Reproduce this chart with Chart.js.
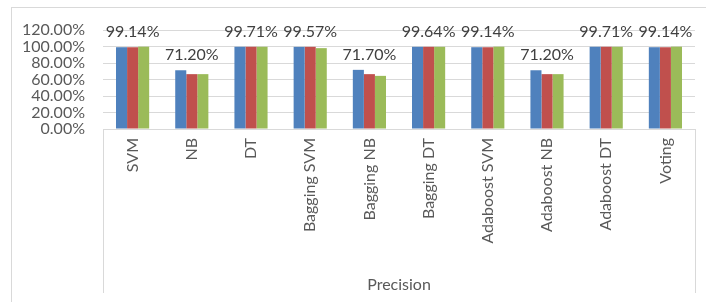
<!DOCTYPE html>
<html>
<head>
<meta charset="utf-8">
<script src="https://cdn.jsdelivr.net/npm/chart.js@4.4.1/dist/chart.umd.min.js"></script>
<style>
  html, body { margin: 0; padding: 0; background: #fff; }
  canvas { display: block; }
</style>
</head>
<body>
<canvas id="precChart" width="706" height="302"></canvas>
<script>
// categories (models)
var models = ["SVM", "NB", "DT", "Bagging SVM", "Bagging NB", "Bagging DT",
              "Adaboost SVM", "Adaboost NB", "Adaboost DT", "Voting"];

// three series, in percent
var seriesBlue  = [99.14, 71.20, 99.71, 99.57, 71.70, 99.64, 99.14, 71.20, 99.71, 99.14];
var seriesRed   = [99.10, 66.50, 99.71, 99.60, 66.50, 99.64, 99.10, 66.50, 99.71, 99.10];
var seriesGreen = [99.80, 66.50, 99.71, 98.00, 64.40, 99.64, 99.80, 66.50, 99.71, 99.80];

var yTicks = [0, 20, 40, 60, 80, 100, 120];

var FONT = "Lato, 'Open Sans', sans-serif";

// frame + category box lines
var framePlugin = {
  id: "frame",
  beforeDraw: function(chart) {
    var c = chart.ctx, a = chart.chartArea;
    c.save();
    c.strokeStyle = "#d9d9d9";
    c.lineWidth = 1;
    c.strokeRect(11.5, 7.5, 900, 500);
    c.beginPath();
    c.moveTo(Math.round(a.left) + 0.5, a.bottom);
    c.lineTo(Math.round(a.left) + 0.5, 293);
    c.moveTo(Math.round(a.right) + 0.5, a.bottom);
    c.lineTo(Math.round(a.right) + 0.5, 293);
    c.stroke();
    c.restore();
  }
};

// value labels above each group (values of the blue series)
var labelPlugin = {
  id: "valLabels",
  afterDatasetsDraw: function(chart) {
    var c = chart.ctx;
    var meta = chart.getDatasetMeta(0);
    var xs = chart.scales.x;
    c.save();
    c.font = "16px " + FONT;
    c.fillStyle = "#404040";
    c.textAlign = "center";
    c.textBaseline = "middle";
    meta.data.forEach(function(bar, i) {
      var x = xs.getPixelForValue(i);
      c.fillText(seriesBlue[i].toFixed(2) + "%", x, bar.y - 15);
    });
    c.restore();
  }
};

new Chart(document.getElementById("precChart"), {
  type: "bar",
  data: {
    labels: models,
    datasets: [
      { data: seriesBlue,  backgroundColor: "#4F81BD" },
      { data: seriesRed,   backgroundColor: "#C0504D" },
      { data: seriesGreen, backgroundColor: "#9BBB59" }
    ]
  },
  options: {
    responsive: false,
    animation: false,
    layout: { padding: { top: 30, right: 11, bottom: 0, left: 0 } },
    plugins: { legend: { display: false }, tooltip: { enabled: false } },
    datasets: { bar: { categoryPercentage: 0.56, barPercentage: 1 } },
    scales: {
      x: {
        grid: { display: false, drawTicks: false },
        border: { display: true, color: "#d9d9d9" },
        ticks: {
          minRotation: 90, maxRotation: 90, autoSkip: false, padding: 9,
          color: "#595959", font: { family: FONT, size: 16 }
        },
        title: {
          display: true, text: "Precision", color: "#595959",
          font: { family: FONT, size: 16 }, padding: { top: 0, bottom: 8 }
        },
        afterFit: function(s) { s.height = 173; }
      },
      y: {
        min: 0, max: 120,
        afterBuildTicks: function(s) { s.ticks = yTicks.map(function(v) { return { value: v }; }); },
        grid: { color: "#d9d9d9", drawTicks: false },
        border: { display: false },
        ticks: {
          autoSkip: false, padding: 18, color: "#595959", font: { family: FONT, size: 16 },
          callback: function(v) { return v.toFixed(2) + "%"; }
        },
        afterFit: function(s) { s.width = 103; }
      }
    }
  },
  plugins: [framePlugin, labelPlugin]
});
</script>
</body>
</html>
